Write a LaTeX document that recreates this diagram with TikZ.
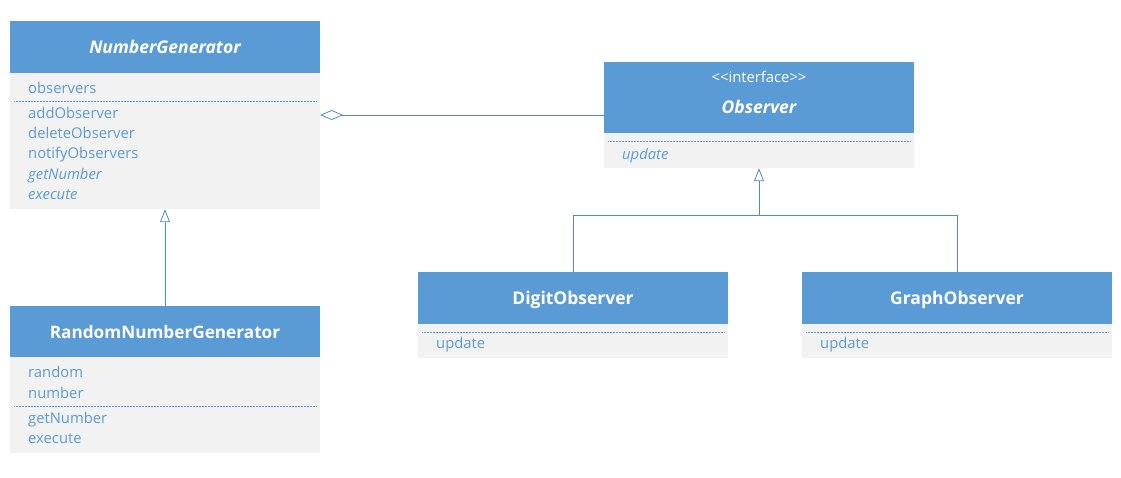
\documentclass[tikz,border=0pt]{standalone}
\usepackage{fontspec}
\setmainfont{Open Sans}
\usetikzlibrary{arrows.meta}
\definecolor{umlblue}{HTML}{5B9BD5}
\definecolor{umlgray}{HTML}{F2F2F2}
\definecolor{umlline}{HTML}{4E8CC6}
\tikzset{
    head/.style={fill=umlblue, text=white, minimum width=310pt, inner sep=0pt, text height=13pt, text depth=0pt, font=\fontsize{17.5}{20}\selectfont\bfseries},
    body/.style={fill=umlgray, minimum width=310pt, inner sep=0pt},
    member/.style={anchor=west, text=umlblue, inner sep=0pt, text height=12pt, text depth=1pt, font=\fontsize{14.8}{17}\selectfont},
    sep/.style={umlblue, densely dotted, line width=0.5pt},
    link/.style={umlline, line width=0.8pt},
}
\begin{document}
\begin{tikzpicture}[x=1pt, y=-1pt]
    \useasboundingbox (0,0) rectangle (1121,478);
    % NumberGenerator
    \node[head, minimum height=52pt] (ngHead) at (165,47) {\itshape NumberGenerator};
    \node[body, minimum height=136pt] (ngBody) at (165,141) {};
    \node[member] (ngObservers) at (28,88) {observers};
    \draw[sep] (14,101) -- (316,101);
    \node[member] (ngAdd) at (28,113) {addObserver};
    \node[member] (ngDelete) at (28,133) {deleteObserver};
    \node[member] (ngNotify) at (28,153) {notifyObservers};
    \node[member, font=\fontsize{14.8}{17}\selectfont\itshape] (ngGet) at (28,174) {getNumber};
    \node[member, font=\fontsize{14.8}{17}\selectfont\itshape] (ngExecute) at (28,194) {execute};
    % RandomNumberGenerator
    \node[head, minimum height=51pt, font=\fontsize{17.2}{20}\selectfont\bfseries] (rngHead) at (165,331.5) {RandomNumberGenerator};
    \node[body, minimum height=96pt] (rngBody) at (165,405) {};
    \node[member] (rngRandom) at (28,372) {random};
    \node[member] (rngNumber) at (28,393) {number};
    \draw[sep] (14,406) -- (316,406);
    \node[member] (rngGet) at (28,418) {getNumber};
    \node[member] (rngExecute) at (28,438) {execute};
    % Observer
    \node[head, minimum height=71pt] (obsHead) at (759,97.5) {};
    \node[text=white, inner sep=0pt, text height=10pt, text depth=0pt, font=\fontsize{14.8}{17}\selectfont] (obsStereo) at (759,78) {{<}{<}interface{>}{>}};
    \node[head, minimum width=0pt, fill=none, font=\fontsize{17.5}{20}\selectfont\bfseries\itshape] (obsName) at (759,107) {Observer};
    \node[body, minimum height=35pt] (obsBody) at (759,150.5) {};
    \draw[sep] (608,141) -- (910,141);
    \node[member, font=\fontsize{14.8}{17}\selectfont\itshape] (obsUpdate) at (622,154) {update};
    % DigitObserver
    \node[head, minimum height=52pt] (digitHead) at (573,298) {DigitObserver};
    \node[body, minimum height=34pt] (digitBody) at (573,341) {};
    \draw[sep] (422,332) -- (724,332);
    \node[member] (digitUpdate) at (436,343) {update};
    % GraphObserver
    \node[head, minimum height=52pt] (graphHead) at (957,298) {GraphObserver};
    \node[body, minimum height=34pt] (graphBody) at (957,341) {};
    \draw[sep] (806,332) -- (1108,332);
    \node[member] (graphUpdate) at (820,343) {update};
    % aggregation
    \coordinate (ngAgg) at (ngBody.east |- 0,115);
    \draw[link, {Diamond[open, length=23pt, width=10pt]}-] (ngAgg) -- (obsHead.west |- ngAgg);
    % inheritance
    \coordinate (fork) at (759,215);
    \draw[link, -{Triangle[open, length=13pt, width=10pt]}] (rngHead.north) -- (ngBody.south);
    \draw[link, -{Triangle[open, length=13pt, width=10pt]}] (digitHead.north) |- (fork) -- (obsBody.south);
    \draw[link] (graphHead.north) |- (fork);
\end{tikzpicture}
\end{document}
